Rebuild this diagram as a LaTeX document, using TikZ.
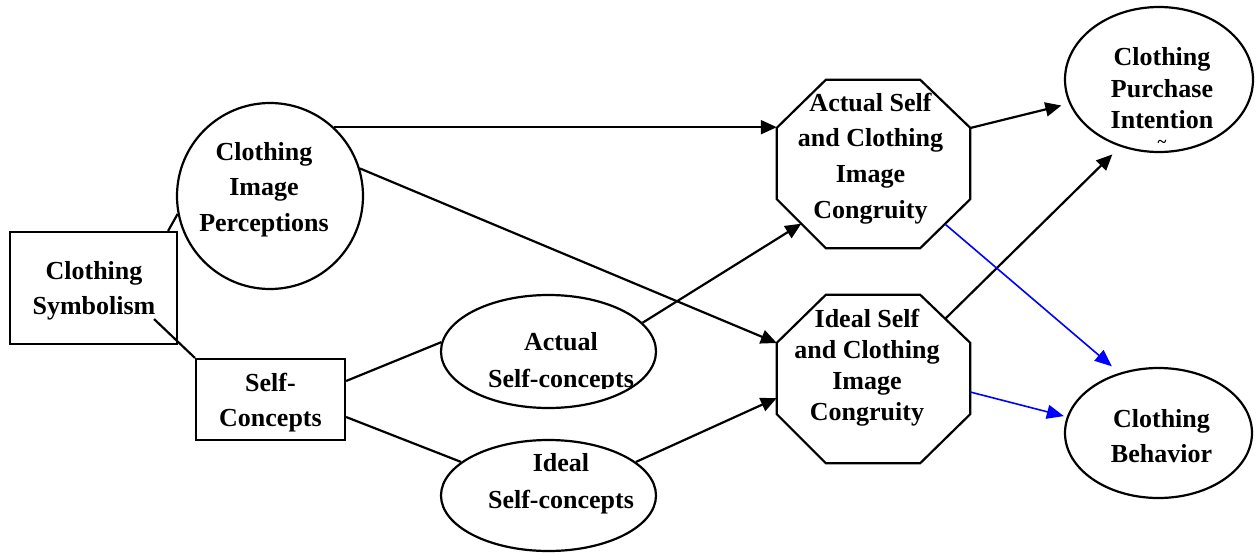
\documentclass[tikz,border=0pt]{standalone}
\usepackage{fontspec}
\setmainfont{Liberation Serif}
\usetikzlibrary{calc,arrows.meta,shapes.geometric}
\begin{document}
\begin{tikzpicture}[x=1pt,y=-1pt,
  outline/.style={draw=black,line width=2.2pt,inner sep=0pt},
  lbl/.style={font=\bfseries\fontsize{26}{#1}\selectfont,align=center,inner sep=0pt},
  lbl/.default=35,
  link/.style={draw=black,line width=2.2pt},
  arr/.style={link,-{Triangle[length=16pt,width=14pt]}},
  barr/.style={draw=blue,line width=1.6pt,-{Triangle[length=17pt,width=14pt]}},
  octbox/.style={draw=none,rectangle,minimum width=193pt,minimum height=168pt,inner sep=0pt}
]
\useasboundingbox (0,0) rectangle (1256,552);

% boxes
\node[outline,rectangle,minimum width=167pt,minimum height=112pt] (sym) at (93.5,288) {};
\node[lbl] (symt) at (94,291) {Clothing\\Symbolism};
\node[outline,rectangle,minimum width=149pt,minimum height=81pt] (sc) at (270.5,399.5) {};
\node[lbl] (sct) at (270.5,403) {Self-\\Concepts};

% circle
\node[outline,circle,minimum size=186pt] (cip) at (270,196) {};
\node[lbl=35.5] (cipt) at (264,189.5) {Clothing\\Image\\Perceptions};

% self-concept ellipses
\node[outline,ellipse,minimum width=215pt,minimum height=113pt] (asc) at (548.5,351.5) {};
\begin{scope}
  \clip (440,290) rectangle (660,388);
  \node[lbl=37] (asct) at (561,363) {Actual\\Self-concepts};
\end{scope}
\node[outline,ellipse,minimum width=215pt,minimum height=111pt] (isc) at (548.5,495.5) {};
\node[lbl=37] (isct) at (561,483.5) {Ideal\\Self-concepts};

% congruity octagons
\node[octbox] (aco) at (873.5,164) {};
\node[octbox] (ico) at (873.5,379) {};
\foreach \o in {aco,ico}{
  \draw[line width=2.2pt,line join=miter]
    ($(\o.north west)+(49,0)$) -- ($(\o.north east)+(-50,0)$) --
    ($(\o.north east)+(0,48)$) -- ($(\o.south east)+(0,-49)$) --
    ($(\o.south east)+(-50,0)$) -- ($(\o.south west)+(49,0)$) --
    ($(\o.south west)+(0,-49)$) -- ($(\o.north west)+(0,48)$) -- cycle;
}
\node[lbl=35.7] (acot) at (870.5,158.5) {Actual Self\\and Clothing\\Image\\Congruity};
\node[lbl=31] (icot) at (867,367.5) {Ideal Self\\and Clothing\\Image\\Congruity};

% outcome ellipses
\node[outline,ellipse,minimum width=188pt,minimum height=145pt] (cpi) at (1159,79.5) {};
\node[lbl=31.5] (cpit) at (1162,88.5) {Clothing\\Purchase\\Intention};
\node[inner sep=0pt,font=\bfseries\fontsize{17}{17}\selectfont] (tld) at (1162,144) {\textasciitilde};
\node[outline,ellipse,minimum width=187pt,minimum height=130pt] (cb) at (1158.5,433) {};
\node[lbl] (cbt) at (1161.5,436.5) {Clothing\\Behavior};

% plain links
\draw[link] ($(sym.north east)+(-10,0)$) -- (cip.191);
\coordinate (symtail) at ($(sym.south east)+(-24,-26)$);
\draw[link] (symtail) -- (sc.north west);
\draw[link] ([yshift=18.5pt]sc.east) -- (asc.175);
\draw[link] ([yshift=-17.5pt]sc.east) -- (isc.159);

% arrows into the congruity octagons
\draw[arr] (asc.17) -- ($(aco.south west)+(24.5,-24.5)$);
\draw[arr] (cip.47) -- (cip.47 -| aco.west);
\draw[arr] (cip.17) -- ($(ico.west)+(0,-36)$);
\draw[arr] (isc.21) -- ($(ico.west)+(0,19)$);

% arrows to the outcomes
\draw[arr,shorten >=8pt] ($(aco.east)+(0,-36)$) -- (cpi.195);
\draw[arr,shorten >=11pt] ($(ico.north east)+(-25,24)$) -- (cpi.240);
\draw[barr,shorten >=10pt] ($(aco.south east)+(-25,-24)$) -- (cb.123);
\draw[barr,shorten >=3pt] ([yshift=-13pt]ico.east) -- (cb.170.5);
\end{tikzpicture}
\end{document}
